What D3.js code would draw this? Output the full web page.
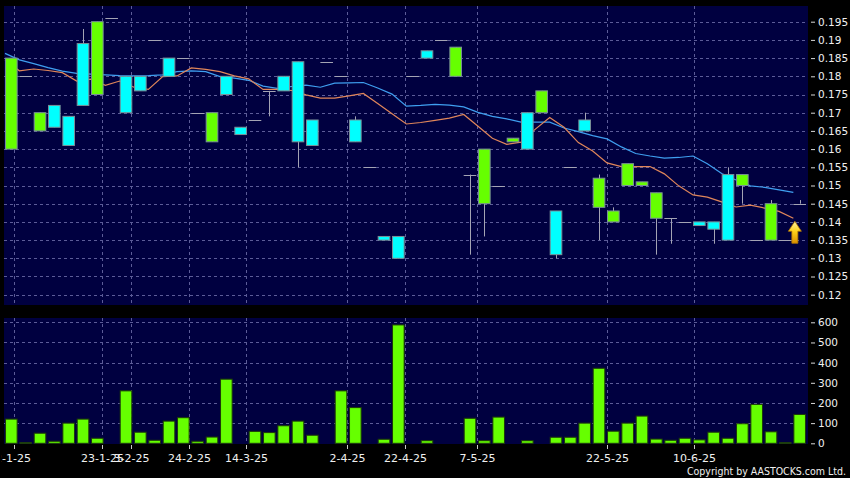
<!DOCTYPE html>
<html><head><meta charset="utf-8">
<script src="https://cdn.jsdelivr.net/npm/d3@7"></script>
<style>body{margin:0;background:#000;}svg{display:block;}</style>
</head><body>
<script>
// ---------- DATA ----------
const opens  = [0.160,0.180,0.165,0.172,0.169,0.189,0.175,0.196,0.180,0.180, 0.190,0.185,0.185,0.170,0.162,0.180,0.166,0.168,0.176,0.180, 0.184,0.168,0.184,0.180,0.168,0.155,0.136,0.136,0.180,0.187, 0.190,0.180,0.153,0.145,0.150,0.162,0.170,0.170,0.143,0.155, 0.168,0.144,0.140,0.150,0.150,0.141,0.141,0.140,0.140,0.140, 0.153,0.150,0.135,0.135,0.135,0.145];
const closes = [0.185,0.180,0.170,0.166,0.161,0.172,0.195,0.196,0.170,0.176, 0.190,0.180,0.185,0.170,0.170,0.175,0.164,0.168,0.176,0.176, 0.162,0.161,0.184,0.180,0.162,0.155,0.135,0.130,0.180,0.185, 0.190,0.188,0.153,0.160,0.150,0.163,0.160,0.176,0.131,0.155, 0.165,0.152,0.143,0.156,0.151,0.148,0.141,0.140,0.139,0.138, 0.135,0.153,0.135,0.145,0.135,0.145];
const highs  = [0.185,0.180,0.170,0.172,0.169,0.193,0.195,0.196,0.180,0.180, 0.190,0.185,0.185,0.170,0.170,0.180,0.166,0.168,0.176,0.180, 0.184,0.168,0.184,0.180,0.169,0.155,0.136,0.136,0.180,0.187, 0.190,0.188,0.153,0.160,0.150,0.163,0.170,0.176,0.143,0.155, 0.170,0.153,0.144,0.156,0.151,0.148,0.141,0.140,0.140,0.140, 0.155,0.153,0.135,0.146,0.135,0.146];
const lows   = [0.160,0.180,0.165,0.166,0.161,0.172,0.175,0.196,0.170,0.176, 0.190,0.180,0.185,0.170,0.162,0.175,0.164,0.168,0.169,0.176, 0.155,0.161,0.184,0.180,0.162,0.155,0.135,0.130,0.180,0.185, 0.190,0.180,0.131,0.136,0.150,0.162,0.160,0.170,0.130,0.155, 0.165,0.135,0.140,0.150,0.150,0.131,0.134,0.140,0.139,0.134, 0.135,0.145,0.135,0.135,0.135,0.145];
const volumes = [120,3,50,10,100,120,25,0,260,55, 15,110,127,10,31,318,0,59,53,87, 110,40,0,260,177,0,20,587,0,13, 0,0,124,13,130,0,13,0,30,30, 100,372,60,100,135,21,15,25,17,55, 25,97,193,57,3,143];
const maShort = [0.1845,0.1815,0.1820,0.1816,0.1810,0.1787,0.1792,0.1775,0.1787,0.1770, 0.1764,0.1799,0.1801,0.1823,0.1819,0.1813,0.1801,0.1793,0.1764,0.1764, 0.1761,0.1749,0.1740,0.1740,0.1746,0.1753,0.1725,0.1697,0.1669,0.1673, 0.1679,0.1685,0.1695,0.1663,0.1630,0.1613,0.1619,0.1655,0.1687,0.1660, 0.1618,0.1595,0.1562,0.1552,0.1552,0.1552,0.1532,0.1499,0.1474,0.1468, 0.1455,0.1441,0.1446,0.1438,0.1429,0.1410];
const maLong  = [0.1863,0.1845,0.1835,0.1824,0.1814,0.1808,0.1806,0.1804,0.1802,0.1801, 0.1802,0.1804,0.1813,0.1815,0.1813,0.1799,0.1795,0.1789,0.1773,0.1767, 0.1772,0.1776,0.1770,0.1781,0.1782,0.1783,0.1768,0.1751,0.1718,0.1720, 0.1723,0.1721,0.1716,0.1701,0.1690,0.1683,0.1674,0.1674,0.1674,0.1658, 0.1648,0.1637,0.1628,0.1606,0.1588,0.1581,0.1575,0.1577,0.1581,0.1560, 0.1533,0.1515,0.1499,0.1495,0.1488,0.1481];
const dateLabels = ["2-1-25","23-1-25","3-2-25","24-2-25","14-3-25","2-4-25","22-4-25","7-5-25","22-5-25","10-6-25"];
const dateSlots  = [0.19, 6.33, 8.35, 12.4, 16.4, 23.45, 27.47, 32.49, 41.58, 47.65];
const priceTicks = [0.12,0.125,0.13,0.135,0.14,0.145,0.15,0.155,0.16,0.165,0.17,0.175,0.18,0.185,0.19,0.195];
const volumeTicks = [0,100,200,300,400,500,600];
const copyright = "Copyright by AASTOCKS.com Ltd.";

// ---------- CHART ----------
const W = 850, H = 478;
const FONT = "DejaVu Sans, Verdana, sans-serif";
const svg = d3.select("body").append("svg").attr("width", W).attr("height", H)
  .style("background", "#000");

const pTop = 6, pBot = 305, vTop = 318, vBot = 444, left = 4, right = 808;
const n = closes.length;
const x = d3.scaleBand().domain(d3.range(n)).range([4.17, 806.83])
  .paddingInner(0.12).paddingOuter(0.06);
const xPos = s => x(0) + x.bandwidth() / 2 + s * x.step();
const yP = d3.scaleLinear().domain([0.12, 0.195]).range([294.7, 21.7]);
const yV = d3.scaleLinear().domain([0, 600]).range([443.3, 322.3]);

const defs = svg.append("defs");
defs.append("clipPath").attr("id", "clipP").append("rect")
  .attr("x", left).attr("y", pTop).attr("width", right - left).attr("height", pBot - pTop);
defs.append("clipPath").attr("id", "clipX").append("rect")
  .attr("x", 1.5).attr("y", 440).attr("width", 848).attr("height", 38);
const grad = defs.append("linearGradient").attr("id", "arrowGrad")
  .attr("x1", 0).attr("y1", 0).attr("x2", 0).attr("y2", 1);
grad.append("stop").attr("offset", "0%").attr("stop-color", "#fff3a8");
grad.append("stop").attr("offset", "45%").attr("stop-color", "#ffd21a");
grad.append("stop").attr("offset", "100%").attr("stop-color", "#d98f00");

// panels
svg.append("rect").attr("x", left).attr("y", pTop).attr("width", right - left).attr("height", pBot - pTop).attr("fill", "#000040");
svg.append("rect").attr("x", left).attr("y", vTop).attr("width", right - left).attr("height", vBot - vTop).attr("fill", "#000040");

const gridColor = "#5c5c98";
const grid = svg.append("g").attr("stroke", gridColor).attr("stroke-width", 1).attr("stroke-dasharray", "3,3").attr("fill", "none");
priceTicks.forEach(t => {
  const yy = Math.round(yP(t)) + 0.5;
  grid.append("line").attr("x1", left).attr("x2", right).attr("y1", yy).attr("y2", yy);
});
volumeTicks.filter(t => t > 0).forEach(t => {
  const yy = Math.round(yV(t)) + 0.5;
  grid.append("line").attr("x1", left).attr("x2", right).attr("y1", yy).attr("y2", yy);
});
dateSlots.forEach(s => {
  const xx = Math.round(xPos(s)) + 0.5;
  grid.append("line").attr("x1", xx).attr("x2", xx).attr("y1", pTop).attr("y2", pBot);
  grid.append("line").attr("x1", xx).attr("x2", xx).attr("y1", vTop).attr("y2", vBot);
});

// MA lines
const gP = svg.append("g").attr("clip-path", "url(#clipP)");
const maLine = d3.line().x((d, i) => x(i)).y(d => yP(d));
gP.append("path").datum(maLong).attr("d", maLine).attr("fill", "none").attr("stroke", "#3f9ff0").attr("stroke-width", 1.2);
gP.append("path").datum(maShort).attr("d", maLine).attr("fill", "none").attr("stroke", "#e0865a").attr("stroke-width", 1.2);

// candles
const candles = d3.range(n).map(i => ({i, o: opens[i], c: closes[i], h: highs[i], l: lows[i]}));
const cg = gP.append("g");
const cx = i => Math.round(x(i) + x.bandwidth() / 2) + 0.5;
cg.selectAll("line.wick").data(candles.filter(d => d.h > d.l)).join("line")
  .attr("class", "wick")
  .attr("x1", d => cx(d.i)).attr("x2", d => cx(d.i))
  .attr("y1", d => yP(d.h)).attr("y2", d => yP(d.l))
  .attr("stroke", "#a4a4b4").attr("stroke-width", 1);
cg.selectAll("line.doji").data(candles.filter(d => d.o === d.c)).join("line")
  .attr("class", "doji")
  .attr("x1", d => x(d.i)).attr("x2", d => x(d.i) + x.bandwidth())
  .attr("y1", d => Math.round(yP(d.c)) + 0.5).attr("y2", d => Math.round(yP(d.c)) + 0.5)
  .attr("stroke", "#a4a4b4").attr("stroke-width", 1);
cg.selectAll("rect.body").data(candles.filter(d => d.o !== d.c)).join("rect")
  .attr("class", "body")
  .attr("x", d => x(d.i) + 0.5).attr("width", x.bandwidth() - 1)
  .attr("y", d => yP(Math.max(d.o, d.c))).attr("height", d => Math.abs(yP(d.o) - yP(d.c)))
  .attr("fill", d => d.c > d.o ? "#66ff00" : "#00ffff")
  .attr("stroke", "#7a9098").attr("stroke-width", 1);

// arrow indicator at last MA point
const ax = x(n - 1) + 1.5, ay = yP(maShort[n - 1]) + 3;
gP.append("path")
  .attr("d", `M${ax},${ay} L${ax + 6.5},${ay + 10} L${ax + 3},${ay + 10} L${ax + 3},${ay + 22} L${ax - 3},${ay + 22} L${ax - 3},${ay + 10} L${ax - 6.5},${ay + 10} Z`)
  .attr("fill", "url(#arrowGrad)").attr("stroke", "#b87800").attr("stroke-width", 0.8);

// volume bars
svg.append("g").selectAll("rect").data(volumes).join("rect")
  .attr("x", (d, i) => x(i) + 0.5).attr("width", x.bandwidth() - 1)
  .attr("y", d => yV(d)).attr("height", d => yV(0) - yV(d))
  .attr("fill", "#66ff00").attr("stroke", "#1d3a08").attr("stroke-width", 1);

// right axes
function styleAxis(g) {
  g.select(".domain").remove();
  g.selectAll(".tick line").attr("stroke", "#d8d8d8");
  g.selectAll(".tick text").attr("fill", "#f0f0f0").style("font-family", FONT).style("font-size", "10.5px");
}
svg.append("g").attr("transform", "translate(811,0)")
  .call(d3.axisRight(yP).tickValues(priceTicks).tickSize(4).tickPadding(3).tickFormat(d => String(d)))
  .call(styleAxis);
svg.append("g").attr("transform", "translate(811,0)")
  .call(d3.axisRight(yV).tickValues(volumeTicks).tickSize(4).tickPadding(3).tickFormat(d => String(d)))
  .call(styleAxis);

// bottom date axis
const xg = svg.append("g").attr("clip-path", "url(#clipX)");
dateSlots.forEach((s, k) => {
  const xx = Math.round(xPos(s)) + 0.5;
  xg.append("line").attr("x1", xx).attr("x2", xx).attr("y1", 445).attr("y2", 449).attr("stroke", "#c8c8c8");
  xg.append("text").attr("x", xx - (k === 0 ? 1.5 : 0)).attr("y", 461.5).attr("text-anchor", "middle")
    .attr("fill", "#f0f0f0").style("font-family", FONT).style("font-size", "11px").text(dateLabels[k]);
});

// copyright
svg.append("text").attr("x", 846).attr("y", 474.5).attr("text-anchor", "end")
  .attr("fill", "#f0f0f0").style("font-family", FONT).style("font-size", "10.5px")
  .attr("textLength", 159).attr("lengthAdjust", "spacingAndGlyphs").text(copyright);
</script>
</body></html>
